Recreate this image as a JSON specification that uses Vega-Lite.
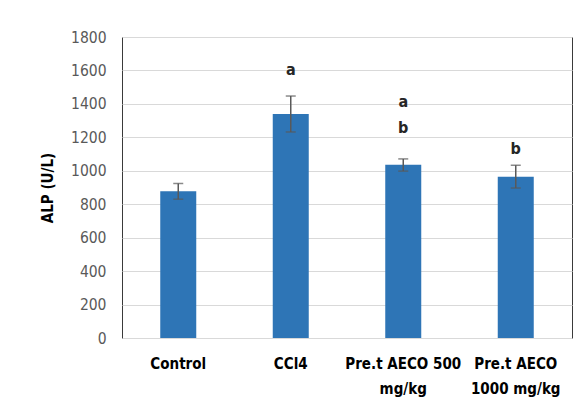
{
  "$schema": "https://vega.github.io/schema/vega-lite/v6.json",
  "width": 450,
  "height": 301,
  "autosize": {"type": "none"},
  "padding": {"left": 122, "top": 37, "right": 10, "bottom": 76},
  "background": "white",
  "config": {
    "font": "DejaVu Sans Condensed",
    "view": {"stroke": "#3a3a3a", "strokeWidth": 1}
  },
  "datasets": {
    "bars": [
      {"group": "Control", "mean": 877, "lower": 830, "upper": 924},
      {"group": "CCl4", "mean": 1340, "lower": 1232, "upper": 1447},
      {"group": "Pre.t AECO 500 mg/kg", "mean": 1036, "lower": 998, "upper": 1071},
      {"group": "Pre.t AECO 1000 mg/kg", "mean": 965, "lower": 897, "upper": 1033}
    ],
    "letters": [
      {"group": "CCl4", "letter": "a", "at": 1603},
      {"group": "Pre.t AECO 500 mg/kg", "letter": "a", "at": 1411},
      {"group": "Pre.t AECO 500 mg/kg", "letter": "b", "at": 1256},
      {"group": "Pre.t AECO 1000 mg/kg", "letter": "b", "at": 1130}
    ]
  },
  "encoding": {
    "x": {
      "field": "group",
      "type": "nominal",
      "sort": ["Control", "CCl4", "Pre.t AECO 500 mg/kg", "Pre.t AECO 1000 mg/kg"],
      "scale": {"paddingInner": 0.68, "paddingOuter": 0.34},
      "axis": {
        "title": null,
        "labelAngle": 0,
        "domain": false,
        "ticks": false,
        "labelPadding": 18,
        "labelFont": "DejaVu Sans Condensed",
        "labelFontSize": 15,
        "labelFontWeight": "bold",
        "labelColor": "#000000",
        "labelLineHeight": 25,
        "labelLimit": 200,
        "labelOverlap": false,
        "labelExpr": "datum.label == 'Pre.t AECO 500 mg/kg' ? ['Pre.t AECO 500', 'mg/kg'] : datum.label == 'Pre.t AECO 1000 mg/kg' ? ['Pre.t AECO', '1000 mg/kg'] : datum.label"
      }
    },
    "y": {
      "type": "quantitative",
      "scale": {"domain": [0, 1800], "nice": false},
      "axis": {
        "title": "ALP (U/L)",
        "tickCount": 10,
        "format": "d",
        "labelOverlap": false,
        "grid": true,
        "gridColor": "#d9d9d9",
        "gridWidth": 1,
        "domain": false,
        "ticks": false,
        "labelPadding": 16,
        "labelFont": "DejaVu Sans Condensed",
        "labelFontSize": 15.5,
        "labelColor": "#595959",
        "titleFont": "DejaVu Sans Condensed",
        "titleFontSize": 15,
        "titleFontWeight": "bold",
        "titleColor": "#000000",
        "titleX": -75,
        "titleBaseline": "middle"
      }
    }
  },
  "layer": [
    {
      "data": {"name": "bars"},
      "mark": {"type": "bar", "color": "#2e75b6"},
      "encoding": {
        "y": {"field": "mean", "type": "quantitative"}
      }
    },
    {
      "data": {"name": "bars"},
      "mark": {"type": "rule", "color": "#595959", "strokeWidth": 1.5},
      "encoding": {
        "y": {"field": "lower", "type": "quantitative"},
        "y2": {"field": "upper"}
      }
    },
    {
      "data": {"name": "bars"},
      "mark": {"type": "tick", "color": "#595959", "thickness": 1.5, "size": 10},
      "encoding": {"y": {"field": "upper", "type": "quantitative"}}
    },
    {
      "data": {"name": "bars"},
      "mark": {"type": "tick", "color": "#595959", "thickness": 1.5, "size": 10},
      "encoding": {"y": {"field": "lower", "type": "quantitative"}}
    },
    {
      "data": {"name": "letters"},
      "mark": {"type": "text", "font": "DejaVu Sans Condensed", "fontSize": 16, "fontWeight": "bold", "color": "#262626", "baseline": "middle"},
      "encoding": {
        "y": {"field": "at", "type": "quantitative"},
        "text": {"field": "letter"}
      }
    }
  ]
}
